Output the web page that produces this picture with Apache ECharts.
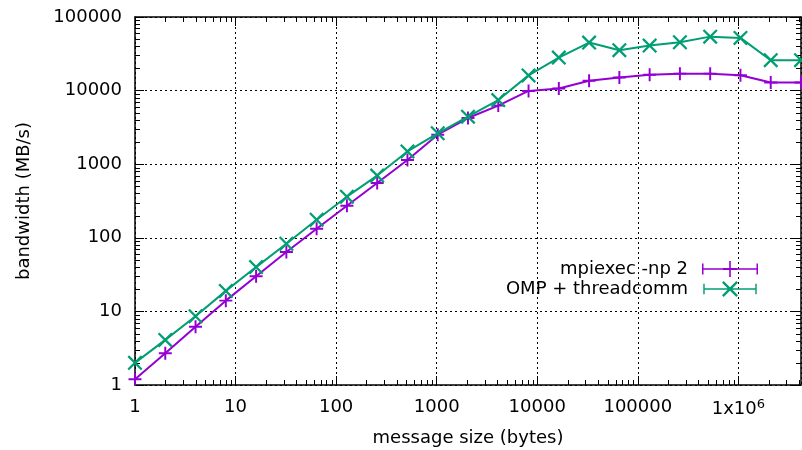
<!DOCTYPE html>
<html>
<head>
<meta charset="utf-8">
<title>bandwidth</title>
<script src="https://cdn.jsdelivr.net/npm/echarts@6/dist/echarts.min.js"></script>
<style>
    html, body { margin: 0; padding: 0; background: #fff; }
    #demo { width: 802px; height: 450px; }
</style>
</head>
<body>
<div id="demo"></div>
<script>
/**
 * 数据区
 */
// 消息大小 (bytes)
var msgSizes = [1, 2, 4, 8, 16, 32, 64, 128, 256, 512, 1024, 2048, 4096, 8192,
    16384, 32768, 65536, 131072, 262144, 524288, 1048576, 2097152, 4194304];
// mpiexec -np 2 带宽 (MB/s)
var mpiBandwidth = [1.2, 2.7, 6.2, 14, 30, 64, 133, 272, 556, 1140, 2520, 4240, 6250, 9900,
    10700, 13600, 15100, 16400, 17000, 17000, 16200, 12900, 12900];
// OMP + threadcomm 带宽 (MB/s)
var ompBandwidth = [2.0, 4.1, 8.6, 19, 40, 83, 176, 362, 701, 1490, 2630, 4420, 7430, 16100,
    28100, 44900, 35400, 40900, 45400, 54100, 52000, 25900, 25900];
// 坐标轴范围
var xRange = [1, 4194304];
var yRange = [1, 100000];
// 小刻度 (对数轴 2..9)
var minorMantissa = [2, 3, 4, 5, 6, 7, 8, 9];
var xDecades = [1, 10, 100, 1000, 10000, 100000, 1000000];
var yDecades = [1, 10, 100, 1000, 10000];

var seriesNames = ['mpiexec -np 2', 'OMP + threadcomm'];
var seriesColors = ['#9400d3', '#009e73'];

var FONT = 'DejaVu Sans';

var basedata = {
    dom_id: 'demo',
    myChart: null
};

/**
 * 图形
 */
var SYMBOL_PLUS = 'path://M-1,-0.15H1V0.15H-1Z M-0.15,-1H0.15V1H-0.15Z';
var SYMBOL_CROSS = 'path://M-0.882,-1.118L1.118,0.882L0.882,1.118L-1.118,-0.882Z ' +
    'M-1.118,0.882L0.882,-1.118L1.118,-0.882L-0.882,1.118Z';
// 图例: 误差棒样式
var ICON_MPI = 'path://M0,7.25H56V8.75H0Z M0,2.5H1.5V13.5H0Z M54.5,2.5H56V13.5H54.5Z ' +
    'M27.2,0H28.8V16H27.2Z M21,7H35V9H21Z';
var ICON_OMP = 'path://M0,7.25H56V8.75H0Z M0,2.5H1.5V13.5H0Z M54.5,2.5H56V13.5H54.5Z ' +
    'M21.38,-0.38L36.38,14.62L34.62,16.38L19.62,1.38Z ' +
    'M19.62,14.62L34.62,-0.38L36.38,1.38L21.38,16.38Z';

/******************************************************* 函数区 ********************************************************/

function pairs(xs, ys) {
    var out = [];
    for (var i = 0; i < xs.length; i++) {
        out.push([xs[i], ys[i]]);
    }
    return out;
}

function minorValues(decades, maxV) {
    var out = [];
    decades.forEach(function (d) {
        minorMantissa.forEach(function (m) {
            if (m * d < maxV) out.push(m * d);
        });
    });
    return out;
}

function tickLabel(v) {
    var r = Math.round(v);
    var lg = Math.log(r) / Math.LN10;
    if (Math.abs(lg - Math.round(lg)) > 1e-6) return '';
    if (r === 1000000) return '1x10{sup|6}';
    return String(r);
}

function baseAxis(type, pos, range, showLabel) {
    return {
        type: 'log',
        logBase: 10,
        position: pos,
        min: range[0],
        max: range[1],
        axisLine: { show: true, lineStyle: { color: '#000', width: 1.5 } },
        axisTick: { show: true, inside: true, length: 9, lineStyle: { color: '#000', width: 1 } },
        axisLabel: {
            show: showLabel,
            color: '#000',
            fontFamily: FONT,
            fontSize: 18,
            margin: 13,
            showMaxLabel: type !== 'x',
            formatter: tickLabel,
            rich: {
                sup: { fontFamily: FONT, fontSize: 13, color: '#000', padding: [0, 0, 10, 0] }
            }
        },
        splitLine: {
            show: showLabel,
            lineStyle: { color: '#000', width: 1, type: [2, 3] }
        }
    };
}

function minorTickSeries(dir) {
    var data;
    if (dir === 'x') {
        data = minorValues(xDecades, xRange[1]).map(function (v) { return [v, yRange[0]]; });
    } else {
        data = minorValues(yDecades, yRange[1]).map(function (v) { return [xRange[0], v]; });
    }
    return {
        type: 'custom',
        silent: true,
        z: 3,
        data: data,
        renderItem: function (params, api) {
            var a, b, st = { stroke: '#000', lineWidth: 1 };
            if (dir === 'x') {
                a = api.coord([api.value(0), yRange[0]]);
                b = api.coord([api.value(0), yRange[1]]);
                var x = Math.round(a[0]) + 0.5;
                return {
                    type: 'group',
                    children: [
                        { type: 'line', shape: { x1: x, y1: a[1], x2: x, y2: a[1] - 5 }, style: st },
                        { type: 'line', shape: { x1: x, y1: b[1], x2: x, y2: b[1] + 5 }, style: st }
                    ]
                };
            }
            a = api.coord([xRange[0], api.value(1)]);
            b = api.coord([xRange[1], api.value(1)]);
            var y = Math.round(a[1]) + 0.5;
            return {
                type: 'group',
                children: [
                    { type: 'line', shape: { x1: a[0], y1: y, x2: a[0] + 5, y2: y }, style: st },
                    { type: 'line', shape: { x1: b[0], y1: y, x2: b[0] - 5, y2: y }, style: st }
                ]
            };
        }
    };
}

function lineSeries(idx, values, symbol, size) {
    return {
        name: seriesNames[idx],
        type: 'line',
        z: 4 + idx,
        data: pairs(msgSizes, values),
        symbol: symbol,
        symbolSize: size,
        symbolKeepAspect: true,
        showSymbol: true,
        lineStyle: { color: seriesColors[idx], width: 2 },
        itemStyle: { color: seriesColors[idx] },
        emphasis: { disabled: true }
    };
}

/******************************************************* 组件区域 ******************************************************/

var init_application = function () {
    var xMain = baseAxis('x', 'bottom', xRange, true);
    xMain.name = 'message size (bytes)';
    xMain.nameLocation = 'middle';
    xMain.nameGap = 44;
    xMain.nameTextStyle = { fontFamily: FONT, fontSize: 18, color: '#000' };

    var yMain = baseAxis('y', 'left', yRange, true);
    yMain.name = 'bandwidth (MB/s)';
    yMain.nameLocation = 'middle';
    yMain.nameGap = 102;
    yMain.nameTextStyle = { fontFamily: FONT, fontSize: 18, color: '#000' };

    var option = {
        backgroundColor: '#fff',
        animation: false,
        grid: { left: 135, top: 17, right: 1, bottom: 65, outerBoundsMode: 'none', containLabel: false },
        xAxis: [xMain, baseAxis('x', 'top', xRange, false)],
        yAxis: [yMain, baseAxis('y', 'right', yRange, false)],
        legend: {
            orient: 'vertical',
            right: 44,
            top: 260,
            padding: 0,
            align: 'right',
            itemWidth: 56,
            itemHeight: 16,
            itemGap: 2,
            selectedMode: false,
            textStyle: { fontFamily: FONT, fontSize: 18, color: '#000', padding: [0, 9, 0, 0] },
            data: [
                { name: seriesNames[0], icon: ICON_MPI, itemStyle: { color: seriesColors[0] } },
                { name: seriesNames[1], icon: ICON_OMP, itemStyle: { color: seriesColors[1] } }
            ]
        },
        series: [
            minorTickSeries('x'),
            minorTickSeries('y'),
            lineSeries(0, mpiBandwidth, SYMBOL_PLUS, 13),
            lineSeries(1, ompBandwidth, SYMBOL_CROSS, 15)
        ]
    };

    basedata.myChart = echarts.init(document.getElementById(basedata.dom_id));
    basedata.myChart.setOption(option);

    window.onresize = function () {
        basedata.myChart.resize();
    };
};

init_application();
</script>
</body>
</html>
